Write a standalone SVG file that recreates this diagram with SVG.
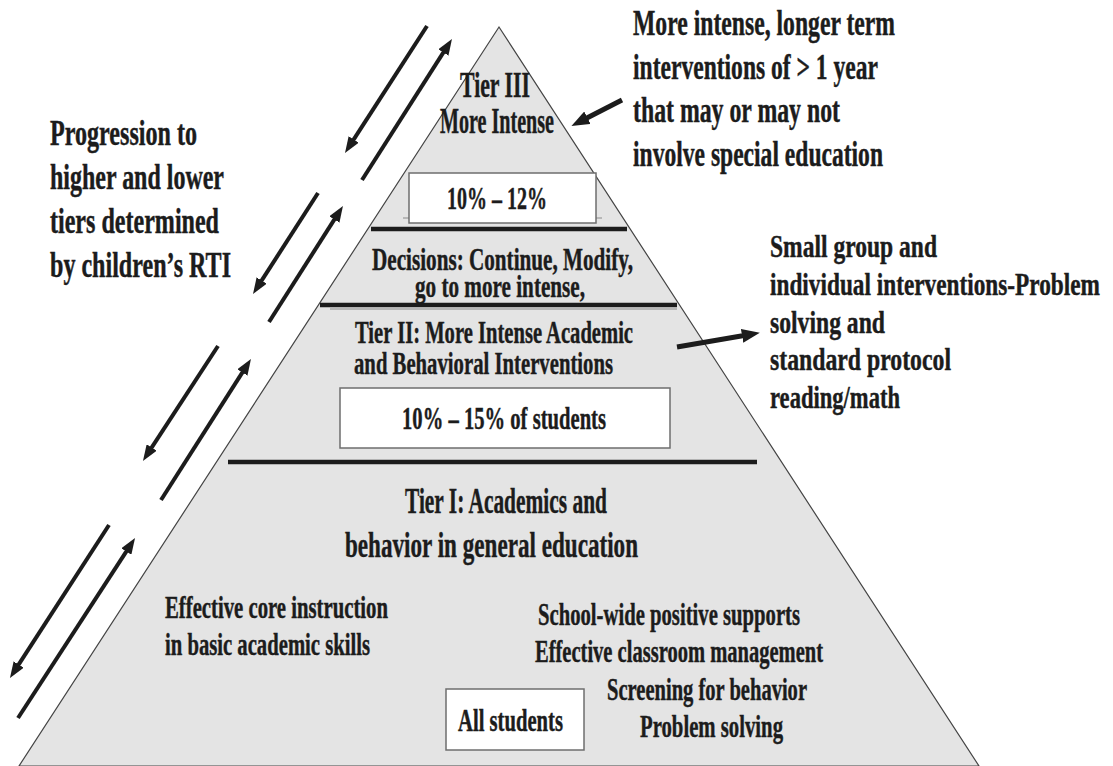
<svg xmlns="http://www.w3.org/2000/svg" width="1113" height="766" viewBox="0 0 1113 766">
  <defs>
    <style>
      text { font-family: "Liberation Serif", "Times New Roman", serif; font-weight: bold; fill: #1c1c1c; stroke: #1c1c1c; stroke-width: 0.45; }
      .big { font-size: 35px; }
      .mid { font-size: 32px; }
      .sm { font-size: 31px; }
      .tight { font-size: 31px; }
      .bar { stroke: #1c1c1c; stroke-width: 4.5; }
      .hair { stroke: #8a8a8a; stroke-width: 1; }
      .box { fill: #ffffff; stroke: #6e6e6e; stroke-width: 1.5; }
      .arrow { stroke: #1c1c1c; stroke-width: 4; fill: none; marker-end: url(#head); }
      .arrow-w { stroke: #1c1c1c; stroke-width: 5; fill: none; marker-end: url(#head-w); }
    </style>
    <marker id="head" markerUnits="userSpaceOnUse" markerWidth="16" markerHeight="12" refX="4" refY="6" orient="auto">
      <path d="M0,0 L16,6 L0,12 Z" fill="#1c1c1c"/>
    </marker>
    <marker id="head-w" markerUnits="userSpaceOnUse" markerWidth="18" markerHeight="14" refX="5" refY="7" orient="auto">
      <path d="M0,0 L18,7 L0,14 Z" fill="#1c1c1c"/>
    </marker>
  </defs>

  <rect width="1113" height="766" fill="#ffffff"/>

  <!-- pyramid body and band dividers -->
  <g id="pyramid">
    <polygon points="499,27 19,766 979,766" fill="#e4e4e4" stroke="#444" stroke-width="1.2"/>
    <line class="hair" x1="403" y1="218" x2="602" y2="218"/>
    <line class="bar" x1="371" y1="229" x2="627" y2="229"/>
    <line class="bar" x1="320" y1="305" x2="677" y2="305"/>
    <line class="hair" x1="330" y1="309" x2="677" y2="309"/>
    <line class="bar" x1="228" y1="462" x2="757" y2="462" stroke-width="5"/>
  </g>

  <!-- tier III -->
  <g id="tier3">
    <text class="big" x="460" y="97" textLength="70" lengthAdjust="spacingAndGlyphs">Tier III</text>
    <text class="big" x="440" y="133" textLength="114" lengthAdjust="spacingAndGlyphs">More Intense</text>
  </g>
  <g id="tier3-share">
    <rect class="box" x="409" y="173" width="187" height="50"/>
    <text class="mid" x="447" y="209" textLength="100" lengthAdjust="spacingAndGlyphs">10% – 12%</text>
  </g>

  <!-- decision band -->
  <g id="decisions">
    <text class="tight" x="372" y="270" textLength="261" lengthAdjust="spacingAndGlyphs">Decisions: Continue, Modify,</text>
    <text class="tight" x="415" y="297" textLength="170" lengthAdjust="spacingAndGlyphs">go to more intense,</text>
  </g>

  <!-- tier II -->
  <g id="tier2">
    <text class="tight" x="355" y="343" textLength="278" lengthAdjust="spacingAndGlyphs">Tier II: More Intense Academic</text>
    <text class="tight" x="354" y="374" textLength="259" lengthAdjust="spacingAndGlyphs">and Behavioral Interventions</text>
  </g>
  <g id="tier2-share">
    <rect class="box" x="340" y="388" width="330" height="60"/>
    <text class="mid" x="402" y="429" textLength="204" lengthAdjust="spacingAndGlyphs">10% – 15% of students</text>
  </g>

  <!-- tier I -->
  <g id="tier1">
    <text class="big" x="405" y="513" textLength="202" lengthAdjust="spacingAndGlyphs">Tier I: Academics and</text>
    <text class="big" x="345" y="557" textLength="293" lengthAdjust="spacingAndGlyphs">behavior in general education</text>
  </g>
  <g id="core-instruction">
    <text class="sm" x="165" y="618" textLength="223" lengthAdjust="spacingAndGlyphs">Effective core instruction</text>
    <text class="sm" x="165" y="655" textLength="205" lengthAdjust="spacingAndGlyphs">in basic academic skills</text>
  </g>
  <g id="behavior-supports">
    <text class="sm" x="538" y="625" textLength="262" lengthAdjust="spacingAndGlyphs">School-wide positive supports</text>
    <text class="sm" x="535" y="662" textLength="288" lengthAdjust="spacingAndGlyphs">Effective classroom management</text>
    <text class="sm" x="607" y="700" textLength="200" lengthAdjust="spacingAndGlyphs">Screening for behavior</text>
    <text class="sm" x="640" y="737" textLength="143" lengthAdjust="spacingAndGlyphs">Problem solving</text>
  </g>
  <g id="all-students">
    <rect class="box" x="446" y="689" width="138" height="61"/>
    <text class="sm" x="458" y="731" textLength="105" lengthAdjust="spacingAndGlyphs">All students</text>
  </g>

  <!-- side notes -->
  <g id="note-progression">
    <text class="big" x="50" y="145" textLength="147" lengthAdjust="spacingAndGlyphs">Progression to</text>
    <text class="big" x="50" y="189" textLength="174" lengthAdjust="spacingAndGlyphs">higher and lower</text>
    <text class="big" x="50" y="233" textLength="169" lengthAdjust="spacingAndGlyphs">tiers determined</text>
    <text class="big" x="50" y="277" textLength="181" lengthAdjust="spacingAndGlyphs">by children’s RTI</text>
  </g>
  <g id="note-tier3">
    <text class="big" x="633" y="35" textLength="262" lengthAdjust="spacingAndGlyphs">More intense, longer term</text>
    <text class="big" x="633" y="79" textLength="245" lengthAdjust="spacingAndGlyphs">interventions of &gt; 1 year</text>
    <text class="big" x="633" y="122" textLength="207" lengthAdjust="spacingAndGlyphs">that may or may not</text>
    <text class="big" x="633" y="166" textLength="250" lengthAdjust="spacingAndGlyphs">involve special education</text>
  </g>
  <g id="note-tier2">
    <text class="mid" x="770" y="257" textLength="167" lengthAdjust="spacingAndGlyphs">Small group and</text>
    <text class="mid" x="770" y="295" textLength="330" lengthAdjust="spacingAndGlyphs">individual interventions-Problem</text>
    <text class="mid" x="770" y="333" textLength="115" lengthAdjust="spacingAndGlyphs">solving and</text>
    <text class="mid" x="770" y="370" textLength="181" lengthAdjust="spacingAndGlyphs">standard protocol</text>
    <text class="mid" x="770" y="408" textLength="130" lengthAdjust="spacingAndGlyphs">reading/math</text>
  </g>

  <!-- connectors -->
  <g id="connectors">
    <line class="arrow" x1="427" y1="26" x2="351.5" y2="142.9"/>
    <line class="arrow" x1="362" y1="180" x2="445.5" y2="49.1"/>
    <line class="arrow" x1="318" y1="193" x2="259.5" y2="283.9"/>
    <line class="arrow" x1="269" y1="322" x2="336.5" y2="216.1"/>
    <line class="arrow" x1="218" y1="346" x2="149.5" y2="450.9"/>
    <line class="arrow" x1="161" y1="500" x2="244.5" y2="369.1"/>
    <line class="arrow" x1="109" y1="525" x2="16.5" y2="667.9"/>
    <line class="arrow" x1="18" y1="718" x2="128.5" y2="548.1"/>
    <line class="arrow-w" x1="622" y1="100" x2="583" y2="120"/>
    <line class="arrow-w" x1="677" y1="347" x2="747" y2="335"/>
  </g>
</svg>
